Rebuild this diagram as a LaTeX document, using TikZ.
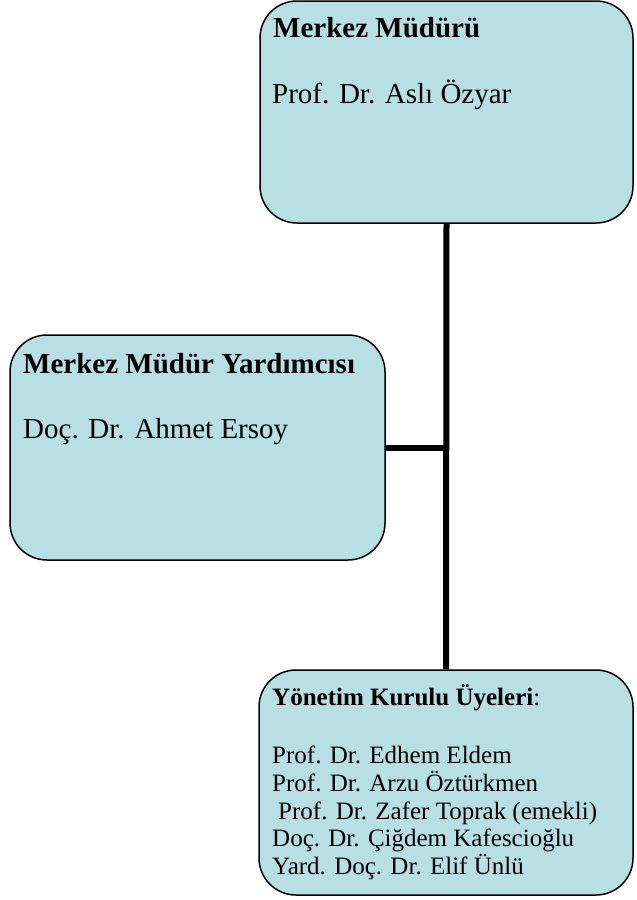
\documentclass[tikz,border=0pt]{standalone}
\usepackage{fontspec}
\setmainfont{Liberation Serif}
\definecolor{boxfill}{RGB}{184,223,227}
\tikzset{
  orgbox/.style={draw=black, line width=1.5pt, fill=boxfill, rounded corners=37pt, inner sep=0pt},
  link/.style={line width=6pt, black},
  big/.style={anchor=base west, inner sep=0pt, font=\fontsize{29}{33}\selectfont},
  small/.style={anchor=base west, inner sep=0pt, align=left, font=\fontsize{25}{27.7}\selectfont}
}
\begin{document}
\begin{tikzpicture}[x=1pt,y=-1pt]
\useasboundingbox (0,0) rectangle (637,900);
% boxes
\node[orgbox, minimum width=373pt, minimum height=222pt] (top) at (446.5,112) {};
\node[orgbox, minimum width=375pt, minimum height=225pt] (mid) at (197.5,447.5) {};
\node[orgbox, minimum width=374pt, minimum height=225pt] (bot) at (446,782.5) {};
% connectors
\coordinate (junc) at (mid.east -| top.south);
\draw[link] (top.south) -- (bot.north);
\draw[link] (mid.east) -- (junc);
% texts
\node[big] (t1) at (273,37) {\bfseries Merkez Müdürü};
\node[big] (t2) at (272,103) {Prof. Dr. Aslı Özyar};
\node[big] (m1) at (23,373) {\bfseries Merkez Müdür Yardımcısı};
\node[big] (m2) at (23,438) {Doç. Dr. Ahmet Ersoy};
\node[small] (b1) at (272,705) {\textbf{Yönetim Kurulu Üyeleri}:};
\node[small, anchor=north west] (b2) at (272,746) {Prof. Dr. Edhem Eldem\\
Prof. Dr. Arzu Öztürkmen\\
\hspace*{6pt}Prof. Dr. Zafer Toprak (emekli)\\
Doç. Dr. Çiğdem Kafescioğlu\\
Yard. Doç. Dr. Elif Ünlü};
\end{tikzpicture}
\end{document}
